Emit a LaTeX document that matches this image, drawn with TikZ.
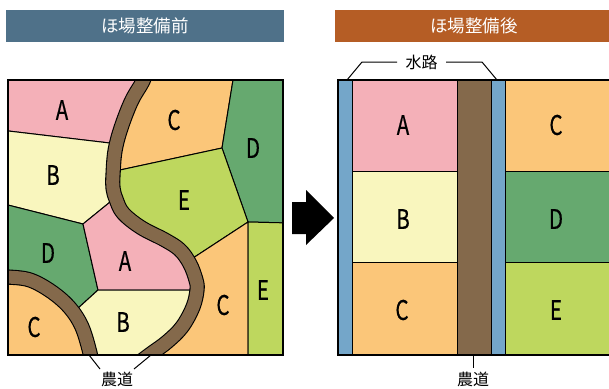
\documentclass[tikz,border=0pt]{standalone}
\usepackage{fontspec}
\setmainfont{Noto Sans CJK JP}
\newfontfamily\letterfont[FakeBold=0.5]{Noto Sans CJK JP}
\definecolor{cpink}{HTML}{F4B0B8}
\definecolor{cyellow}{HTML}{F9F6BE}
\definecolor{corange}{HTML}{FBC679}
\definecolor{cgreen}{HTML}{66A96F}
\definecolor{clime}{HTML}{BED75E}
\definecolor{cbrown}{HTML}{84694B}
\definecolor{cblue}{HTML}{74A6C9}
\definecolor{hleft}{HTML}{4F7189}
\definecolor{hright}{HTML}{B55D25}
\tikzset{
  plot/.style={draw=black,line width=1pt,line join=round},
  roadedge/.style={draw=black,line width=15.2pt,line join=round},
  roadfill/.style={draw=cbrown,line width=13pt,line join=round},
  letter/.style={font=\letterfont\fontsize{27}{27}\selectfont,xscale=0.76,inner sep=0pt},
  header/.style={font=\fontsize{17.5}{18}\selectfont,text=white,inner sep=0pt},
  callout/.style={font=\fontsize{16}{16}\selectfont,inner sep=0pt},
  leader/.style={line width=1pt,draw=black},
  frame/.style={draw=black,line width=2.2pt}
}
\def\mainroad{(146,70) (143,81) (131.5,101) (121,128) (115,151) (113,175) (113,188) (116,199) (123,213) (141,227.5) (165,240) (180,250) (190,264) (196,280) (197,290) (193,307) (182,327) (167,342) (152,353) (140,362)}
\def\sideroad{(0,277) (8,277) (30,280) (52,292) (70,308) (82,327) (90,353) (91,362)}
\begin{document}
\begin{tikzpicture}[x=1pt,y=-1pt]
\useasboundingbox (0,0) rectangle (609,388);
% headers
\fill[hleft] (6,10) rectangle (284,42);
\fill[hright] (335,10) rectangle (609,42);
\node[header] (h1) at (145,26) {ほ場整備前};
\node[header] (h2) at (474,26) {ほ場整備後};
% left map
\begin{scope}
\clip (8,80) rectangle (283,355);
\filldraw[plot,fill=cpink] (0,130) -- (118,144) -- (125,110) -- (140,70) -- (0,70) -- cycle;
\filldraw[plot,fill=corange] (145,70) -- (234,70) -- (233,80) -- (222,148) -- (113,171.5) -- (125,110) -- cycle;
\filldraw[plot,fill=cgreen] (233,80) -- (290,80) -- (290,223) -- (248,222) -- (222,148) -- cycle;
\filldraw[plot,fill=clime] (113,171.5) -- (222,148) -- (248,222) -- (190,260) -- (180,250) -- (165,240) -- (142,227) -- (123,213) -- (113,195) -- cycle;
\filldraw[plot,fill=cyellow] (0,130) -- (118,144) -- (115,198) -- (83,224) -- (0,203) -- cycle;
\filldraw[plot,fill=cgreen] (0,203) -- (83,224) -- (98,290) -- (76,310) -- (52,292) -- (0,277) -- cycle;
\filldraw[plot,fill=cpink] (115,198) -- (83,224) -- (98,290) -- (197,290) -- (196,280) -- (190,263) -- (180,250) -- (165,240) -- (142,227) -- (123,213) -- cycle;
\filldraw[plot,fill=corange] (248,222) -- (248,360) -- (150,360) -- (166,342) -- (182,327) -- (193,307) -- (197,290) -- (196,280) -- (190,260) -- cycle;
\filldraw[plot,fill=clime] (248,222) -- (290,223) -- (290,360) -- (248,360) -- cycle;
\filldraw[plot,fill=cyellow] (98,290) -- (197,290) -- (193,307) -- (182,327) -- (166,342) -- (150,360) -- (85,360) -- (82,327) -- (76,310) -- cycle;
\filldraw[plot,fill=corange] (0,277) -- (30,280) -- (52,292) -- (70,308) -- (82,327) -- (90,355) -- (90,360) -- (0,360) -- cycle;
% roads
\draw[roadedge] plot[smooth,tension=0.6] coordinates {\mainroad};
\draw[roadfill] plot[smooth,tension=0.6] coordinates {\mainroad};
\draw[roadedge] plot[smooth,tension=0.6] coordinates {\sideroad};
\draw[roadfill] plot[smooth,tension=0.6] coordinates {\sideroad};
\end{scope}
\draw[frame] (8,80) rectangle (283,355);
\node[letter] (l1) at (62,110) {A};
\node[letter] (l2) at (174,120) {C};
\node[letter] (l3) at (253,148) {D};
\node[letter] (l4) at (53,175) {B};
\node[letter] (l5) at (184,200) {E};
\node[letter] (l6) at (48,253) {D};
\node[letter] (l7) at (125,261) {A};
\node[letter] (l8) at (263,290) {E};
\node[letter] (l9) at (223,305) {C};
\node[letter] (l10) at (123,322) {B};
\node[letter] (l11) at (34,327) {C};
% callout left
\node[callout] (n1) at (117,379) {農道};
\coordinate (r1) at (89,355);
\coordinate (r2) at (151,355);
\draw[leader] (r1) -- (100,369);
\draw[leader] (r2) -- (134,369);
% arrow
\fill[black] (292,202) -- (306,202) -- (306,190) -- (334,218) -- (306,245) -- (306,234) -- (292,234) -- cycle;
% right map
\begin{scope}
\clip (338,80) rectangle (612,355);
\filldraw[plot,fill=cblue] (330,70) rectangle (352.5,360);
\filldraw[plot,fill=cpink] (352.5,70) rectangle (457.5,171);
\filldraw[plot,fill=cyellow] (352.5,171) rectangle (457.5,262.5);
\filldraw[plot,fill=corange] (352.5,262.5) rectangle (457.5,360);
\filldraw[plot,fill=cbrown] (457.5,70) rectangle (491.5,360);
\filldraw[plot,fill=cblue] (491.5,70) rectangle (505.5,360);
\filldraw[plot,fill=corange] (505.5,70) rectangle (620,171);
\filldraw[plot,fill=cgreen] (505.5,171) rectangle (620,262.5);
\filldraw[plot,fill=clime] (505.5,262.5) rectangle (620,360);
\end{scope}
\draw[frame] (338,80) rectangle (615,355);
\node[letter] (m1) at (403,125) {A};
\node[letter] (m2) at (403,219) {B};
\node[letter] (m3) at (402,310) {C};
\node[letter] (m4) at (556,125) {C};
\node[letter] (m5) at (556,219) {D};
\node[letter] (m6) at (556,310) {E};
\node[callout] (n2) at (421.5,62) {水路};
\coordinate (w1) at (347,80);
\coordinate (w2) at (497,80);
\draw[leader] (w1) -- (362,62) -- (397,62);
\draw[leader] (w2) -- (482,62) -- (446,62);
\node[callout] (n3) at (473,379) {農道};
\coordinate (r3) at (473,356);
\draw[leader] (r3) -- (473,367.5);
\end{tikzpicture}
\end{document}
